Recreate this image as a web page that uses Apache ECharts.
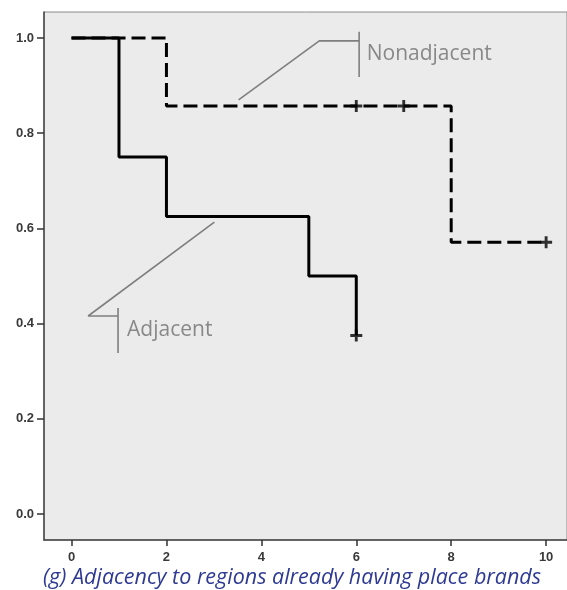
<!DOCTYPE html>
<html>
<head>
<meta charset="utf-8">
<script src="https://cdn.jsdelivr.net/npm/echarts@6/dist/echarts.min.js"></script>
<style>
html,body{margin:0;padding:0;background:#fff;}
#c{width:567px;height:590px;}
</style>
</head>
<body>
<div id="c"></div>
<script>
// Kaplan-Meier steps (time, survival)
const adjacentTimes = [0, 1, 2, 5, 6];
const adjacentSurv = [1.0, 0.75, 0.625, 0.5, 0.375];
const adjacentCensorTimes = [6];
const adjacentCensorSurv = [0.375];

const nonadjTimes = [0, 2, 8, 10];
const nonadjSurv = [1.0, 0.857, 0.571, 0.571];
const nonadjCensorTimes = [6, 7, 10];
const nonadjCensorSurv = [0.857, 0.857, 0.571];

const xTicks = [0, 2, 4, 6, 8, 10];
const yTicks = [0.0, 0.2, 0.4, 0.6, 0.8, 1.0];

// annotation leader lines (data coordinates)
const nonadjLeaderX = [3.52, 5.22, 6.06];
const nonadjLeaderY = [0.87, 0.994, 0.994];
const nonadjBarX = [6.06, 6.06];
const nonadjBarY = [1.013, 0.918];
const adjLeaderX = [3.01, 0.35, 0.98];
const adjLeaderY = [0.613, 0.416, 0.416];
const adjBarX = [0.98, 0.98];
const adjBarY = [0.433, 0.338];
const labelNames = ['Nonadjacent', 'Adjacent'];
const labelX = [6.22, 1.17];
const labelY = [0.966, 0.387];

const caption = '(g) Adjacency to regions already having place brands';

const zip = (a, b) => a.map((v, i) => [v, b[i]]);
const plus = 'path://M3.8,0H6.2V10H3.8Z M0,3.8H10V6.2H0Z';

const chart = echarts.init(document.getElementById('c'), null, {renderer: 'canvas'});
const leaderStyle = {color: '#7f7f7f', width: 1.6};
chart.setOption({
  animation: false,
  backgroundColor: '#ffffff',
  grid: {left: 44, right: -2, top: 12, bottom: 50, show: true,
         backgroundColor: '#ebebeb', borderColor: '#8a8a8a', borderWidth: 1},
  xAxis: {
    type: 'value', min: -0.58, max: 10.44,
    splitLine: {show: false},
    axisLine: {show: true, onZero: false, lineStyle: {color: '#444', width: 1.5}},
    axisTick: {show: true, length: 6, customValues: xTicks, lineStyle: {color: '#333', width: 1.5}},
    axisLabel: {customValues: xTicks, color: '#3a3a3a', fontSize: 13, fontWeight: 'bold',
                fontFamily: 'Liberation Sans', margin: 11}
  },
  yAxis: {
    type: 'value', min: -0.0546, max: 1.0546,
    splitLine: {show: false},
    axisLine: {show: true, onZero: false, lineStyle: {color: '#444', width: 1.5}},
    axisTick: {show: true, length: 7, customValues: yTicks, lineStyle: {color: '#333', width: 1.5}},
    axisLabel: {customValues: yTicks, color: '#3a3a3a', fontSize: 13, fontWeight: 'bold',
                fontFamily: 'Liberation Sans', margin: 10,
                formatter: v => v.toFixed(1)}
  },
  series: [
    {type: 'line', step: 'end', data: zip(nonadjTimes, nonadjSurv), symbol: 'none',
     lineStyle: {color: '#000', width: 3, type: [14, 6]}, z: 3},
    {type: 'line', step: 'end', data: zip(adjacentTimes, adjacentSurv), symbol: 'none',
     lineStyle: {color: '#000', width: 3}, z: 4},
    {type: 'scatter', data: zip(nonadjCensorTimes, nonadjCensorSurv), symbol: plus, symbolSize: 12,
     itemStyle: {color: '#000'}, z: 5},
    {type: 'scatter', data: zip(adjacentCensorTimes, adjacentCensorSurv), symbol: plus, symbolSize: 12,
     itemStyle: {color: '#000'}, z: 5},
    {type: 'line', data: zip(nonadjLeaderX, nonadjLeaderY), symbol: 'none', lineStyle: leaderStyle},
    {type: 'line', data: zip(nonadjBarX, nonadjBarY), symbol: 'none', lineStyle: leaderStyle},
    {type: 'line', data: zip(adjLeaderX, adjLeaderY), symbol: 'none', lineStyle: leaderStyle},
    {type: 'line', data: zip(adjBarX, adjBarY), symbol: 'none', lineStyle: leaderStyle},
    {type: 'scatter', symbolSize: 0,
     data: labelNames.map((n, i) => ({name: n, value: [labelX[i], labelY[i]]})),
     label: {show: true, position: 'right', distance: 0, formatter: p => p.name,
             color: '#6f6f6f', fontSize: 21, fontFamily: 'Open Sans'}}
  ],
  graphic: [{
    type: 'text', left: 43, top: 567,
    style: {text: caption, fill: '#2e3a94', fontSize: 21.5, fontStyle: 'italic',
            fontFamily: 'Open Sans'}
  }]
});
</script>
</body>
</html>
